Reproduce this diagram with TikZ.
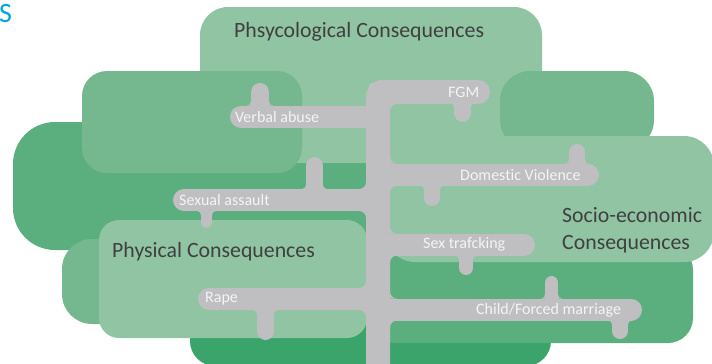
\documentclass[tikz,border=0pt]{standalone}
\usepackage{fontspec}
\setmainfont{Carlito}[Ligatures=NoCommon]
\definecolor{leafLight}{HTML}{90C4A2}
\definecolor{leafMid}{HTML}{75B890}
\definecolor{leafDeep}{HTML}{5BAE7E}
\definecolor{leafDark}{HTML}{3AA46B}
\definecolor{treeGrey}{HTML}{BFBFC1}
\definecolor{titleGrey}{HTML}{404040}
\definecolor{labelWhite}{HTML}{F4F4F4}
\definecolor{slideBlue}{HTML}{00A2E8}

% concave corner of the tree: corner x, corner y, x side, y side, radius
\newcommand{\fillet}[5]{%
  \fill[treeGrey] ({#1},{#2}) -- ({#1+(#3)*#5},{#2})
    .. controls ({#1+(#3)*0.448*#5},{#2}) and ({#1},{#2+(#4)*0.448*#5})
    .. ({#1},{#2+(#4)*#5}) -- cycle;}
% short twig off a branch: x, branch y, tip y, width, direction (1 down, -1 up)
\newcommand{\stub}[5]{%
  \draw[tree, line width=#4pt] (#1,#2) -- (#1,#3);
  \fillet{#1-#4/2}{#2+(#5)*11}{-1}{#5}{4}
  \fillet{#1+#4/2}{#2+(#5)*11}{1}{#5}{4}}

\begin{document}
\begin{tikzpicture}[x=1pt, y=-1pt,
    tree/.style={draw=treeGrey, line cap=round},
    bar/.style={tree, line width=22pt},
    twig/.style={text=labelWhite, inner sep=0pt, anchor=base west, font=\fontsize{16}{19}\selectfont},
    headline/.style={text=titleGrey, inner sep=0pt, anchor=base west, align=left, font=\fontsize{21.8}{27}\selectfont}]
  \clip (0,0) rectangle (712,364);

  % leaves, back to front
  \fill[leafDark, rounded corners=25] (190,300) rectangle (551,366);
  \fill[leafDeep, rounded corners=42] (13,122) rectangle (380,250);
  \fill[leafMid, rounded corners=30] (62,239) rectangle (200,324);
  \fill[leafDeep, rounded corners=25] (370,245) rectangle (693,343);
  \fill[leafLight, rounded corners=20] (99,220) rectangle (367,338);
  \fill[leafLight, rounded corners=28] (200,7) rectangle (542,163);
  \fill[leafMid, rounded corners=25] (82,71) rectangle (302,173);
  \fill[leafMid, rounded corners=30] (500,71) rectangle (654,150);
  \fill[leafLight, rounded corners=30] (385,136) rectangle (714,262);

  % trunk and branches
  \draw[tree, line width=24pt, rounded corners=4] (378,372) -- (378,92) -- (478,92);
  \draw[bar] (378,116.5) -- (241,116.5);
  \draw[bar] (378,174.5) -- (588,174.5);
  \draw[bar] (378,200) -- (184,200);
  \draw[bar] (378,244.5) -- (524,244.5);
  \draw[bar] (378,309.5) -- (631,309.5);
  \draw[bar] (378,299) -- (209,299);

  \fillet{390}{104}{1}{1}{7}
  \foreach \yc/\side in {174.5/1, 200/-1, 244.5/1, 309.5/1, 299/-1} {
    \fillet{378+\side*12}{\yc-11}{\side}{-1}{7}
    \fillet{378+\side*12}{\yc+11}{\side}{1}{7}
  }

  \stub{260}{116.5}{92}{18}{-1}
  \stub{462.5}{92}{113.5}{17}{1}
  \stub{577}{174.5}{152}{16}{-1}
  \stub{432}{174.5}{198}{16}{1}
  \stub{314.5}{200}{165.5}{17}{-1}
  \stub{206.5}{200}{222.5}{11}{1}
  \stub{466}{244.5}{268}{14}{1}
  \stub{551.5}{309.5}{282.5}{13}{-1}
  \stub{620}{309.5}{331}{16}{1}
  \stub{265.5}{299}{331.5}{17}{1}

  % branch labels
  \node[twig] (fgm) at (448,97) {FGM};
  \node[twig] (verbal) at (235,122.7) {Verbal abuse};
  \node[twig] (domestic) at (460,180.3) {Domestic Violence};
  \node[twig] (sexual) at (179,205) {Sexual assault};
  \node[twig] (trafficking) at (423,248) {Sex trafcking};
  \node[twig] (marriage) at (476,314) {Child/Forced marriage};
  \node[twig] (rape) at (205,302) {Rape};

  % group titles
  \node[headline] (psych) at (234,37) {Phsycological Consequences};
  \node[headline] (physical) at (112,257) {Physical Consequences};
  \node[headline] (socio) at (562,249.7) {Socio-economic\\Consequences};

  \node[anchor=base west, inner sep=0pt, text=slideBlue, font=\fontsize{28}{28}\selectfont] (corner) at (-1,23) {S};
\end{tikzpicture}
\end{document}
